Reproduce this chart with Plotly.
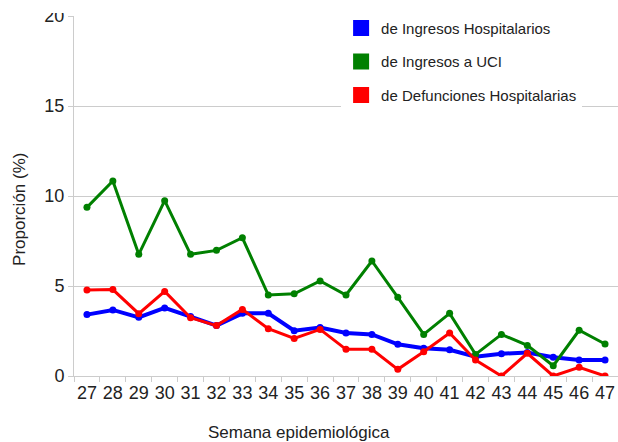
import plotly.graph_objects as go

semanas = [str(s) for s in range(27, 48)]

ingresos_hosp = [3.41, 3.67, 3.26, 3.78, 3.30, 2.80, 3.48, 3.48, 2.52, 2.69, 2.39,
                 2.31, 1.76, 1.54, 1.46, 1.07, 1.24, 1.30, 1.04, 0.89, 0.89]
ingresos_uci = [9.37, 10.83, 6.76, 9.74, 6.76, 6.98, 7.68, 4.50, 4.57, 5.28, 4.50,
                6.39, 4.37, 2.31, 3.48, 1.20, 2.31, 1.70, 0.57, 2.54, 1.78]
defunciones = [4.78, 4.80, 3.46, 4.70, 3.24, 2.80, 3.70, 2.63, 2.09, 2.59, 1.48,
               1.48, 0.37, 1.35, 2.39, 0.89, 0.00, 1.26, 0.00, 0.48, 0.00]

series = [
    ('de Ingresos Hospitalarios', ingresos_hosp, '#0000ff', 4),
    ('de Ingresos a UCI', ingresos_uci, '#008000', 3),
    ('de Defunciones Hospitalarias', defunciones, '#ff0000', 3),
]

FG = '#222222'
GRID = '#cccccc'

fig = go.Figure()
for nombre, valores, color, ancho in series:
    fig.add_trace(go.Scatter(
        x=semanas, y=valores, mode='lines+markers', name=nombre,
        line={'color': color, 'width': ancho},
        marker={'color': color, 'size': 7},
        showlegend=False,
    ))
# entradas de leyenda con cuadrados
for i, (nombre, valores, color, ancho) in enumerate(series):
    fig.add_trace(go.Scatter(
        x=[None], y=[None], mode='markers', name=nombre, legendgroup=str(i),
        marker={'color': color, 'size': 16, 'symbol': 'square'},
    ))

fig.update_layout(
    width=618, height=442,
    margin={'l': 74, 'r': 0, 't': 16, 'b': 66, 'autoexpand': False},
    paper_bgcolor='white', plot_bgcolor='white',
    font={'family': 'Liberation Sans, Arial, sans-serif', 'color': FG},
    legend={
        'x': 0.491, 'y': 1.012, 'xanchor': 'left', 'yanchor': 'top',
        'bgcolor': 'white', 'font': {'size': 15, 'color': FG},
        'tracegroupgap': 11, 'itemsizing': 'trace',
    },
    xaxis={
        'type': 'category', 'range': [-0.5, 20.5],
        'showgrid': False, 'showline': True, 'linecolor': GRID,
        'ticks': 'outside', 'tickson': 'boundaries', 'ticklen': 5,
        'tickcolor': GRID, 'tickangle': 0,
        'tickfont': {'size': 18, 'color': FG},
    },
    yaxis={
        'range': [0, 20], 'dtick': 5, 'showgrid': True, 'gridcolor': GRID,
        'zeroline': False, 'showline': True, 'linecolor': GRID,
        'ticks': 'outside', 'ticklen': 5, 'tickcolor': GRID,
        'tickfont': {'size': 18, 'color': FG},
    },
    annotations=[
        {'text': 'Semana epidemiológica', 'xref': 'paper', 'yref': 'paper',
         'x': 0.413, 'y': -0.158, 'xanchor': 'center', 'yanchor': 'middle',
         'showarrow': False, 'font': {'size': 17, 'color': FG}},
        {'text': 'Proporción (%)', 'xref': 'paper', 'yref': 'paper',
         'x': -0.1, 'y': 0.463, 'xanchor': 'center', 'yanchor': 'middle',
         'textangle': -90, 'showarrow': False, 'font': {'size': 17, 'color': FG}},
    ],
    shapes=[
        {'type': 'rect', 'xref': 'paper', 'yref': 'paper', 'layer': 'above',
         'x0': -0.14, 'x1': -0.005, 'y0': 1.008, 'y1': 1.1,
         'fillcolor': 'white', 'line': {'width': 0}},
    ],
)

# quitar el margen por defecto del body para que la figura llene la ventana
fig.write_html("out.html", config={'displayModeBar': False},
               post_script="document.body.style.margin='0';")
